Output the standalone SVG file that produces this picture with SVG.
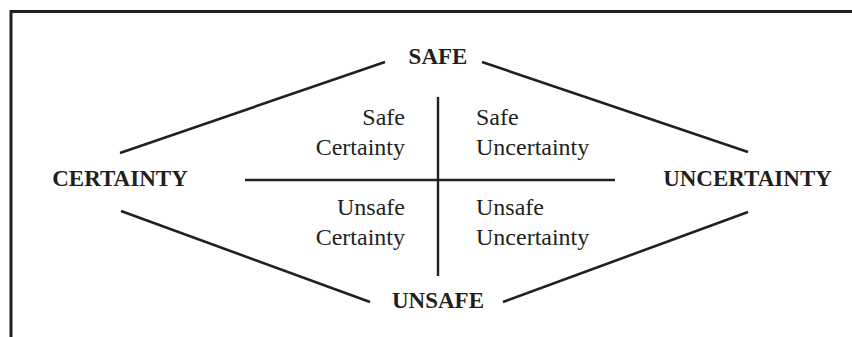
<svg xmlns="http://www.w3.org/2000/svg" width="852" height="337" viewBox="0 0 852 337">
  <style>
    .frame { fill: none; stroke: #231f20; stroke-width: 3; }
    .edge { fill: none; stroke: #231f20; stroke-width: 2.6; stroke-linecap: butt; }
    .axis { fill: none; stroke: #231f20; stroke-width: 2.4; }
    .big { font-family: "Liberation Serif", "Times New Roman", serif; font-weight: bold; font-size: 23px; fill: #231f20; text-anchor: middle; }
    .quad { font-family: "Liberation Serif", "Times New Roman", serif; font-size: 24px; fill: #231f20; }
  </style>
  <rect width="852" height="337" fill="#ffffff"/>
  <path class="frame" d="M11 337 V11.5 H852"/>

  <g id="connectors">
    <line class="edge" x1="120" y1="153" x2="385" y2="62"/>
    <line class="edge" x1="482" y1="62" x2="748" y2="152"/>
    <line class="edge" x1="121" y1="211" x2="370" y2="302"/>
    <line class="edge" x1="503" y1="302" x2="748" y2="212"/>
    <line class="axis" x1="438" y1="97" x2="438" y2="276"/>
    <line class="axis" x1="245" y1="180" x2="615" y2="180"/>
  </g>

  <g id="safe"><text class="big" x="438" y="64">SAFE</text></g>
  <g id="unsafe"><text class="big" x="438" y="307.5">UNSAFE</text></g>
  <g id="certainty"><text class="big" x="120" y="186">CERTAINTY</text></g>
  <g id="uncertainty"><text class="big" x="747.5" y="186">UNCERTAINTY</text></g>

  <g id="safe-certainty">
    <text class="quad" x="405" y="125" text-anchor="end">Safe</text>
    <text class="quad" x="405" y="155" text-anchor="end">Certainty</text>
  </g>
  <g id="safe-uncertainty">
    <text class="quad" x="476" y="125">Safe</text>
    <text class="quad" x="476" y="155">Uncertainty</text>
  </g>
  <g id="unsafe-certainty">
    <text class="quad" x="405" y="215" text-anchor="end">Unsafe</text>
    <text class="quad" x="405" y="245" text-anchor="end">Certainty</text>
  </g>
  <g id="unsafe-uncertainty">
    <text class="quad" x="476" y="215">Unsafe</text>
    <text class="quad" x="476" y="245">Uncertainty</text>
  </g>
</svg>
